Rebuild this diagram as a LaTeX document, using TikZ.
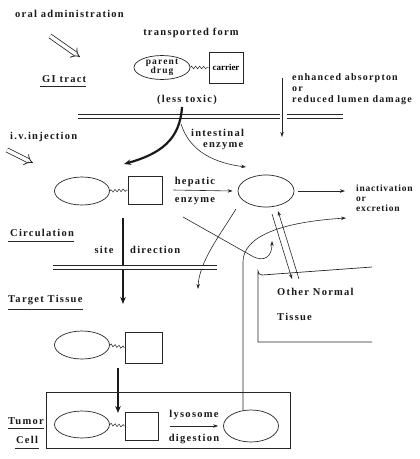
\documentclass[tikz,border=0pt]{standalone}
\usepackage{fontspec}
\setmainfont{Liberation Serif}[LetterSpace=12]
\usetikzlibrary{shapes.geometric,decorations.pathmorphing,arrows.meta}

\begin{document}
\begin{tikzpicture}[x=1pt,y=-1pt,
  ink/.style={draw=black!85, line width=0.7pt},
  txt/.style={font=\fontsize{10.5}{12}\selectfont\bfseries, inner sep=0pt, text=black!90},
  smalltxt/.style={font=\fontsize{9.5}{9.5}\selectfont\bfseries, inner sep=0pt, text=black!90, align=center},
  oval/.style={ellipse, ink, minimum width=55pt, minimum height=28pt, inner sep=0pt},
  carrierbox/.style={rectangle, ink, minimum width=34pt, minimum height=28pt, inner sep=0pt},
  membrane/.style={draw=black!85, double=white, double distance=2.6pt, line width=0.8pt},
  thinarrow/.style={ink, line width=0.6pt, -{Stealth[length=5pt,width=3.5pt]}},
  heavyarrow/.style={draw=black!90, line width=2.2pt, -{Stealth[length=7pt,width=5.5pt]}},
  hollowarrow/.style={draw=black!85, line width=0.8pt, double=white, double distance=3.5pt, -{Implies}},
  link/.style={ink, line width=0.5pt, decorate, decoration={snake, amplitude=1.3pt, segment length=4pt}},
  uline/.style={draw=black!85, line width=0.8pt}
]
\useasboundingbox (0,0) rectangle (420,459);

% ---------- GI tract level ----------
\node[txt, anchor=west] (oral) at (15,14) {oral administration};
\coordinate (oa1) at (50,36);
\coordinate (oa2) at (80,57);
\draw[hollowarrow] (oa1) -- (oa2);

\node[txt, anchor=west] (gi) at (42,79) {GI tract};
\draw[uline] ([xshift=-2pt,yshift=-4pt]gi.south west) -- ([yshift=-4pt]gi.south east);

\node[txt] (tform) at (191,33) {transported form};
\node[ellipse, ink, minimum width=56pt, minimum height=23pt, inner sep=0pt,
      smalltxt] (pd) at (162,67.5) {parent\\drug};
\node[rectangle, ink, minimum width=34pt, minimum height=31pt, inner sep=0pt,
      font=\fontsize{9}{10}\selectfont\bfseries] (car) at (226,67.5) {\addfontfeature{LetterSpace=0}carrier};
\draw[link] (pd.east) -- (car.west);
\node[txt] (less) at (187,100) {(less toxic)};

\node[txt, anchor=north west, align=left, font=\fontsize{10}{11}\selectfont\bfseries]
  (enh) at (292,73) {enhanced absorpton\\or\\reduced lumen damage};

% intestinal wall
\coordinate (m1a) at (78,116.5);
\coordinate (m1b) at (280,116.5);
\coordinate (m1c) at (287,116.5);
\coordinate (m1d) at (343,116.5);
\draw[membrane] (m1a) -- (m1b);
\draw[membrane] (m1c) -- (m1d);

\coordinate (va1) at (282,78);
\coordinate (va2) at (282,137);
\draw[thinarrow] (va1) -- (va2);

% ---------- circulation level ----------
\node[txt, anchor=west] (iv) at (10,137) {i.v.injection};
\coordinate (iv1) at (7,150);
\coordinate (iv2) at (33,163);
\draw[hollowarrow] (iv1) -- (iv2);

\node[oval] (e1) at (82,191) {};
\node[carrierbox] (b1) at (145,190) {};
\draw[link] (e1.east) -- (b1.west);

\node[oval, minimum width=56pt, minimum height=32pt] (e2) at (266,191) {};

\coordinate (abs1) at (182,107);
\coordinate (abs2) at (124,164);
\draw[heavyarrow] (abs1) .. controls (180,140) and (160,154) .. (abs2);
\coordinate (ie1) at (181,124);
\coordinate (ie2) at (246,167);
\draw[thinarrow] (ie1) .. controls (190,152) and (215,163) .. (ie2);
\node[txt, anchor=west] (intes) at (191,133) {intestinal};
\node[txt, anchor=west] (ienz) at (203,146) {enzyme};

\node[txt] (hep) at (195,182) {hepatic};
\node[txt] (henz) at (195,201) {enzyme};
\draw[thinarrow] ([xshift=11pt]b1.east) -- ([xshift=-5pt]e2.west);

\node[txt, anchor=north west, align=left, font=\fontsize{9.5}{10}\selectfont\bfseries]
  (inact) at (356,185) {\addfontfeature{LetterSpace=8}inactivation\\\addfontfeature{LetterSpace=8}or\\\addfontfeature{LetterSpace=8}excretion};
\draw[thinarrow] ([xshift=4pt]e2.east) -- ([xshift=-11pt]inact.north west |- e2.east);

\node[txt, anchor=west] (circ) at (10,233) {Circulation};
\draw[uline] ([xshift=-2pt,yshift=-4pt]circ.south west) -- ([yshift=-4pt]circ.south east);

% site-directed delivery
\coordinate (sd1) at (123,218);
\coordinate (sd2) at (123,304);
\draw[heavyarrow] (sd1) -- (sd2);
\node[txt] (site) at (104,250) {site};
\node[txt, anchor=west] (dir) at (130,250) {direction};

% exchange paths around the liver
\coordinate (x1a) at (183,217);
\coordinate (x1b) at (252,256);
\coordinate (x1c) at (272,241);
\draw[thinarrow] (x1a) -- (x1b) .. controls (265,263) and (272,256) .. (x1c);
\coordinate (x2a) at (236,209);
\coordinate (x2b) at (198,289);
\draw[thinarrow] (x2a) .. controls (220,235) and (199,262) .. (x2b);
\coordinate (p1a) at (272,214);
\coordinate (p1b) at (292,279);
\coordinate (p2a) at (299,279);
\coordinate (p2b) at (278,211);
\draw[thinarrow] (p1a) -- (p1b);
\draw[thinarrow] (p2a) -- (p2b);

% cell membrane
\coordinate (m2a) at (53,267.5);
\coordinate (m2b) at (217,267.5);
\draw[membrane] (m2a) -- (m2b);

% other normal tissue
\draw[ink] (372,342) -- (258,342) -- (258,271)
  arc[start angle=180, end angle=270, radius=4pt] -- (372,267);
\node[txt, anchor=west] (oth) at (277,292) {Other Normal};
\node[txt, anchor=west] (otis) at (277,317) {Tissue};

% ---------- target tissue level ----------
\node[txt, anchor=west] (tt) at (8,300) {Target Tissue};
\draw[uline] ([yshift=-4pt]tt.south west) -- ([yshift=-4pt]tt.south east);

\node[oval] (e3) at (82,345) {};
\node[carrierbox, minimum width=37pt, minimum height=31pt] (b3) at (143.5,347.5) {};
\draw[link] (e3.east) -- (b3.west);

\coordinate (tt1) at (118,368);
\coordinate (tt2) at (118,413);
\draw[heavyarrow] (tt1) -- (tt2);

% ---------- tumor cell ----------
\draw[ink] (46,392) rectangle (290,448);
\node[txt, anchor=west] (tum) at (8,421) {Tumor};
\draw[uline] ([yshift=-4pt]tum.south west) -- ([yshift=-4pt]tum.south east);
\node[txt] (cell) at (27,440) {Cell};
\draw[uline] ([xshift=-1pt,yshift=-4pt]cell.south west) -- ([xshift=1pt,yshift=-4pt]cell.south east);

\node[oval, minimum height=27pt] (e4) at (82,424.5) {};
\node[carrierbox, minimum width=33pt] (b4) at (141.5,426) {};
\draw[link] (e4.east) -- (b4.west);

\node[oval, minimum height=32pt] (e5) at (251,426) {};
\node[txt] (lys) at (194,415) {lysosome};
\node[txt] (dig) at (194,439) {digestion};
\draw[thinarrow] ([xshift=12pt]b4.east) -- ([xshift=-5pt]e5.west);

% released drug returns to circulation
\coordinate (r1) at (243,410.5);
\coordinate (r2) at (243,262);
\coordinate (r3) at (346,218);
\draw[thinarrow] (r1) -- (r2) .. controls (243,236) and (282,222) .. (r3);

\end{tikzpicture}
\end{document}
